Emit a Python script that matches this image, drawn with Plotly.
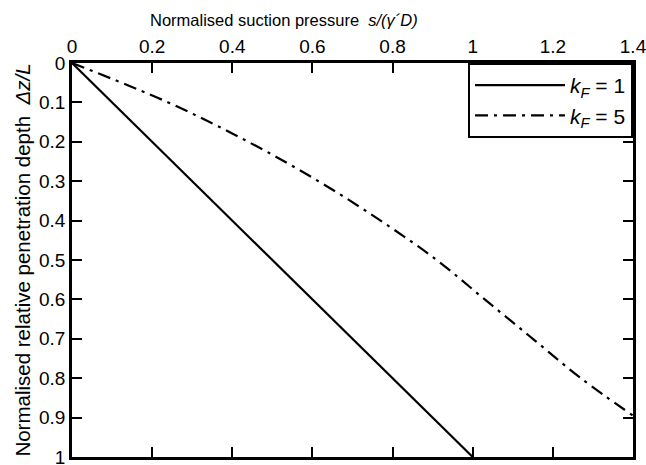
import plotly.graph_objects as go

# Data
s_kf1 = [0.0, 1.0]
dz_kf1 = [0.0, 1.0]

dz_kf5 = [0.0, 0.1, 0.2, 0.3, 0.4, 0.5, 0.6, 0.7, 0.8, 0.895]
s_kf5 = [0.0, 0.24, 0.44, 0.615, 0.77, 0.91, 1.03, 1.15, 1.27, 1.4]

x_ticks = [0, 0.2, 0.4, 0.6, 0.8, 1.0, 1.2, 1.4]
x_tick_labels = ["0", "0.2", "0.4", "0.6", "0.8", "1", "1.2", "1.4"]
y_ticks = [0, 0.1, 0.2, 0.3, 0.4, 0.5, 0.6, 0.7, 0.8, 0.9, 1.0]
y_tick_labels = ["0", "0.1", "0.2", "0.3", "0.4", "0.5", "0.6", "0.7", "0.8", "0.9", "1"]

x_title = "Normalised suction pressure  <i>s/(γ´D)</i>"
y_title = "Normalised relative penetration depth  <i>Δz/L</i>"

FONT = "Liberation Sans, Arial, sans-serif"

fig = go.Figure()
fig.add_trace(go.Scatter(
    x=s_kf1, y=dz_kf1, mode="lines",
    line=dict(color="black", width=2.2, dash="solid"),
    name="<i>k</i><sub><i>F</i></sub> = 1"))
fig.add_trace(go.Scatter(
    x=s_kf5, y=dz_kf5, mode="lines", line_shape="spline",
    line=dict(color="black", width=2.2, dash="13px,6px,3px,6px"),
    name="<i>k</i><sub><i>F</i></sub> = 5"))

fig.update_layout(
    width=646, height=465,
    margin=dict(l=72, r=13, t=63, b=8),
    paper_bgcolor="white", plot_bgcolor="white",
    font=dict(family=FONT, size=17, color="black"),
    showlegend=True,
    legend=dict(
        x=1, y=1, xanchor="right", yanchor="top",
        bgcolor="white", bordercolor="black", borderwidth=2,
        font=dict(family=FONT, size=21, color="black"),
        itemwidth=90, tracegroupgap=0,
    ),
    xaxis=dict(
        side="top", range=[0, 1.4], tickvals=x_ticks, ticktext=x_tick_labels,
        ticks="inside", ticklen=10, tickwidth=2, tickcolor="black",
        showline=True, linecolor="black", linewidth=2.5, mirror="ticks",
        showgrid=False, zeroline=False, ticklabeloverflow="allow",
        automargin=False,
        tickfont=dict(family=FONT, size=19),
    ),
    yaxis=dict(
        range=[1, 0], tickvals=y_ticks, ticktext=y_tick_labels,
        ticks="inside", ticklen=10, tickwidth=2, tickcolor="black",
        showline=True, linecolor="black", linewidth=2.5, mirror="ticks",
        showgrid=False, zeroline=False, ticklabeloverflow="allow",
        automargin=False,
        tickfont=dict(family=FONT, size=19),
        title=dict(text=y_title, font=dict(family=FONT, size=20.5), standoff=3),
    ),
    annotations=[dict(
        text=x_title, xref="paper", yref="paper",
        x=0.378, y=1.109, xanchor="center", yanchor="middle",
        showarrow=False, font=dict(family=FONT, size=16.5, color="black"),
    )],
)

fig.write_html("out.html", config={"displayModeBar": False},
               post_script="document.body.style.margin='0';")
